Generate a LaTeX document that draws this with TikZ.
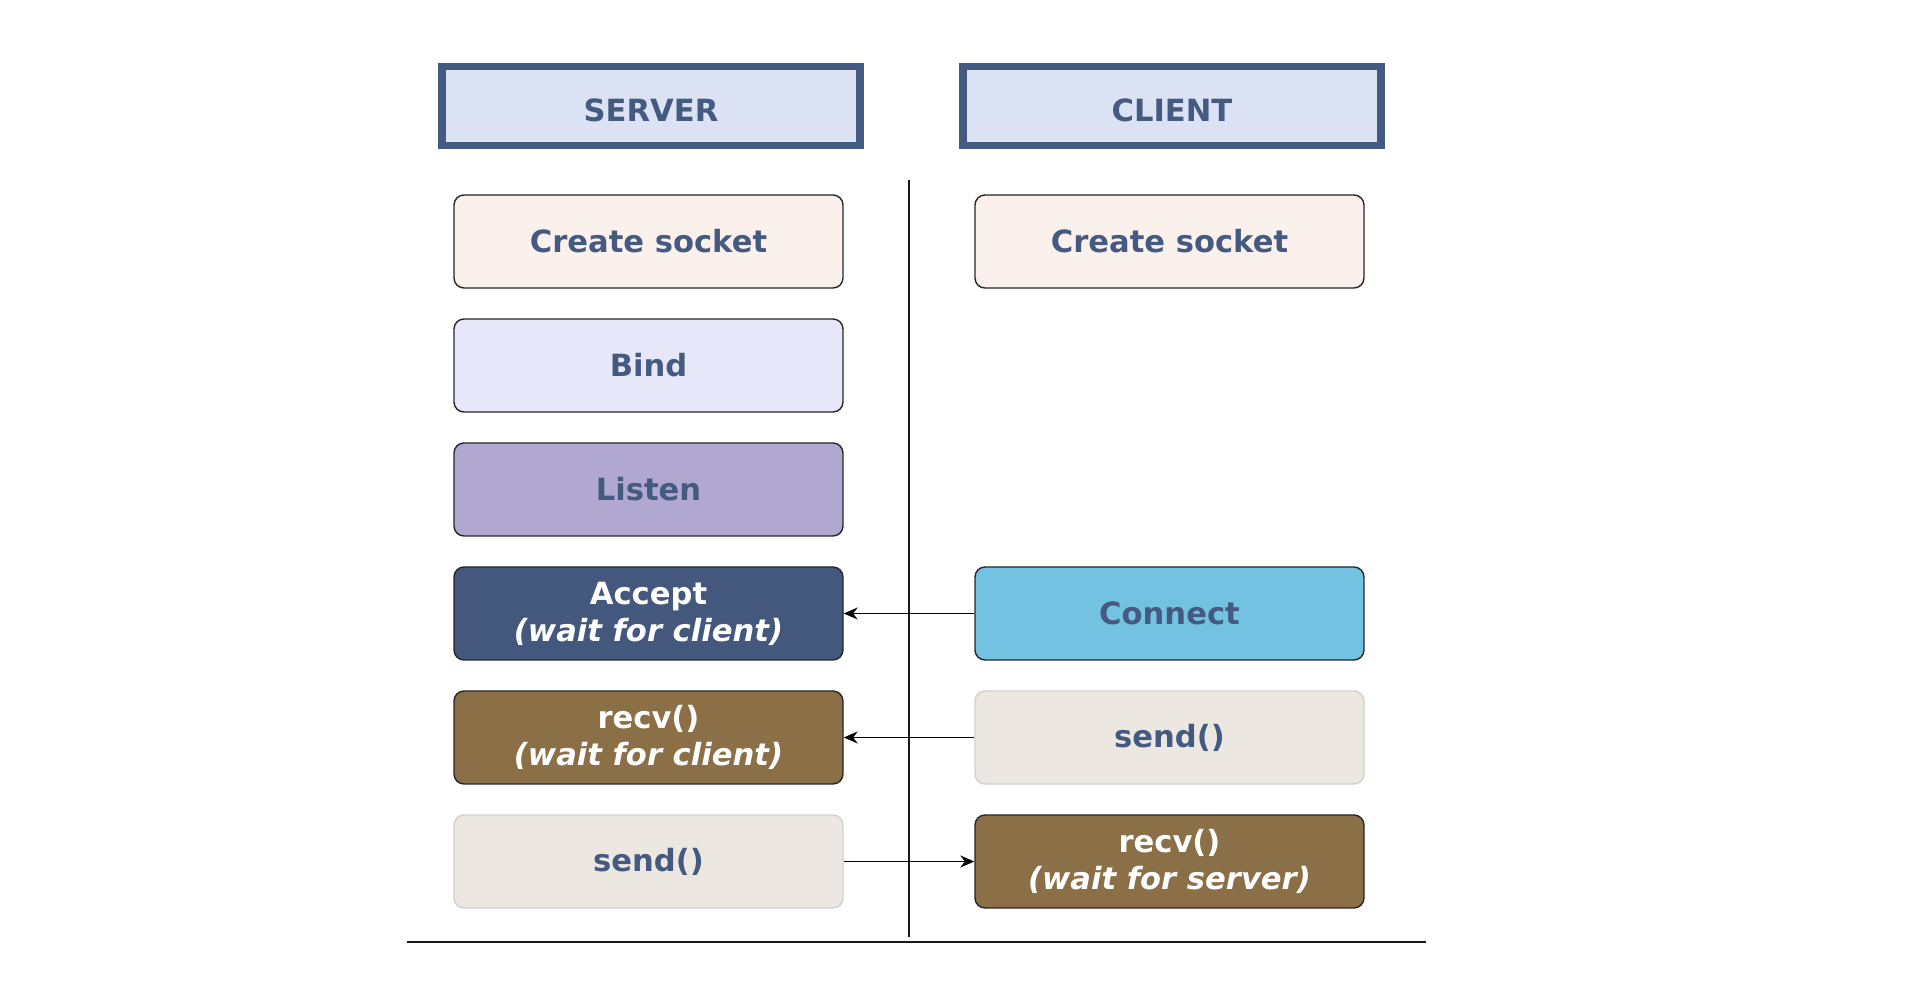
\documentclass[tikz,border=0pt]{standalone}
\usepackage{fontspec}
\setmainfont{DejaVu Sans}
\usetikzlibrary{arrows.meta}
\definecolor{txtblue}{HTML}{445A80}
\definecolor{hdrfill}{HTML}{DBE2F3}
\definecolor{csfill}{HTML}{FBF1EC}
\definecolor{bindfill}{HTML}{E6E8FA}
\definecolor{listenfill}{HTML}{B1A8D2}
\definecolor{acceptfill}{HTML}{43587C}
\definecolor{connectfill}{HTML}{73C2E1}
\definecolor{recvfill}{HTML}{8B6F47}
\definecolor{sendfill}{HTML}{ECE7E0}
\definecolor{sendborder}{HTML}{D4D0CA}
\tikzset{
  x=0.5pt, y=-0.5pt,
  hdr/.style={draw=txtblue, line width=3.6pt, fill=hdrfill, minimum width=209pt, minimum height=39.5pt, inner sep=0pt, text height=16pt, text depth=0pt, font=\fontsize{15.3}{18}\selectfont\bfseries, text=txtblue},
  box/.style={draw=black!85, line width=0.7pt, rounded corners=5pt, minimum width=194.5pt, minimum height=46.5pt, inner sep=0pt, align=center, font=\fontsize{15.3}{18.4}\selectfont\bfseries, text=txtblue},
  dark/.style={text=white},
  sendbox/.style={box, draw=sendborder, fill=sendfill},
  msg/.style={draw=black, line width=0.6pt, -{Stealth[length=7pt,width=6pt]}},
  rule/.style={draw=black!90, line width=1.2pt}
}
\begin{document}
\begin{tikzpicture}
\useasboundingbox (0,0) rectangle (1924,988);
% headers
\node[hdr] (server) at (651,106) {SERVER};
\node[hdr] (client) at (1172,106) {CLIENT};
% dividers
\coordinate (vtop) at (909,180);
\coordinate (vbot) at (909,937);
\draw[rule] (vtop) -- (vbot);
\coordinate (hl) at (407,942);
\coordinate (hr) at (1426,942);
\draw[rule] (hl) -- (hr);
% server column
\node[box, fill=csfill] (scs) at (648.5,241.5) {Create socket};
\node[box, fill=bindfill] (bind) at (648.5,365.5) {Bind};
\node[box, fill=listenfill] (listen) at (648.5,489.5) {Listen};
\node[box, dark, fill=acceptfill] (accept) at (648.5,613.5) {Accept\\\itshape(wait for client)};
\node[box, dark, fill=recvfill] (srecv) at (648.5,737.5) {recv()\\\itshape(wait for client)};
\node[sendbox] (ssend) at (648.5,861.5) {send()};
% client column
\node[box, fill=csfill] (ccs) at (1169.5,241.5) {Create socket};
\node[box, fill=connectfill] (connect) at (1169.5,613.5) {Connect};
\node[sendbox] (csend) at (1169.5,737.5) {send()};
\node[box, dark, fill=recvfill] (crecv) at (1169.5,861.5) {recv()\\\itshape(wait for server)};
% messages
\draw[msg] (connect.west) -- (accept.east);
\draw[msg] (csend.west) -- (srecv.east);
\draw[msg] (ssend.east) -- (crecv.west);
\end{tikzpicture}
\end{document}
